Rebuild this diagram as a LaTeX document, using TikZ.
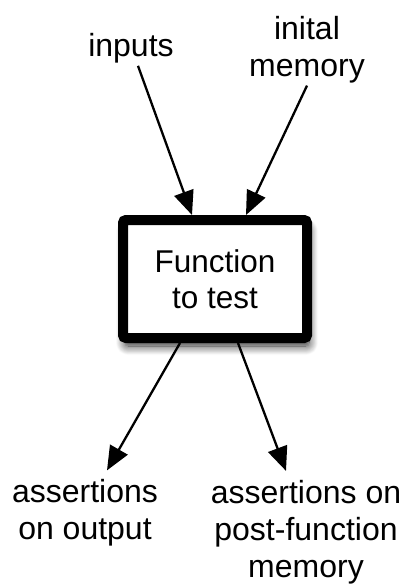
\documentclass[tikz,border=0pt]{standalone}
\usepackage{fontspec}
\setmainfont{Liberation Sans}
\usetikzlibrary{arrows.meta,shadows.blur}
\begin{document}
\begin{tikzpicture}[x=1pt,y=-1pt,
  lbl/.style={font=\fontsize{32}{37}\selectfont, align=center, inner sep=2pt},
  fbox/.style={draw=black, line width=10pt, fill=white, rounded corners=3pt,
    minimum width=184pt, minimum height=118pt, inner sep=0pt,
    font=\fontsize{31.5}{36}\selectfont, align=center,
    blur shadow={shadow xshift=2pt, shadow yshift=-8pt, shadow blur radius=9pt, shadow blur steps=12, shadow opacity=85}},
  arr/.style={line width=2.3pt, -{Triangle[length=24pt,width=20pt]}}]
\useasboundingbox (0,0) rectangle (407,588);
\node[fbox] (f) at (215,279) {Function\\to test};
\node[lbl, anchor=base] (inputs) at (131,57) {inputs};
\node[lbl] (mem) at (307,50) {inital\\memory};
\node[lbl] (aout) at (85,513) {assertions\\on output};
\node[lbl] (amem) at (306,532) {assertions on\\post-function\\memory};
\draw[arr] ([xshift=7pt]inputs.south) -- ([xshift=-23pt]f.north);
\draw[arr] (mem.south) -- ([xshift=31pt]f.north);
\draw[arr] ([xshift=-35pt]f.south) -- ([xshift=22pt,yshift=7pt]aout.north);
\draw[arr] ([xshift=23pt]f.south) -- ([xshift=-20pt,yshift=7pt]amem.north);
\end{tikzpicture}
\end{document}
